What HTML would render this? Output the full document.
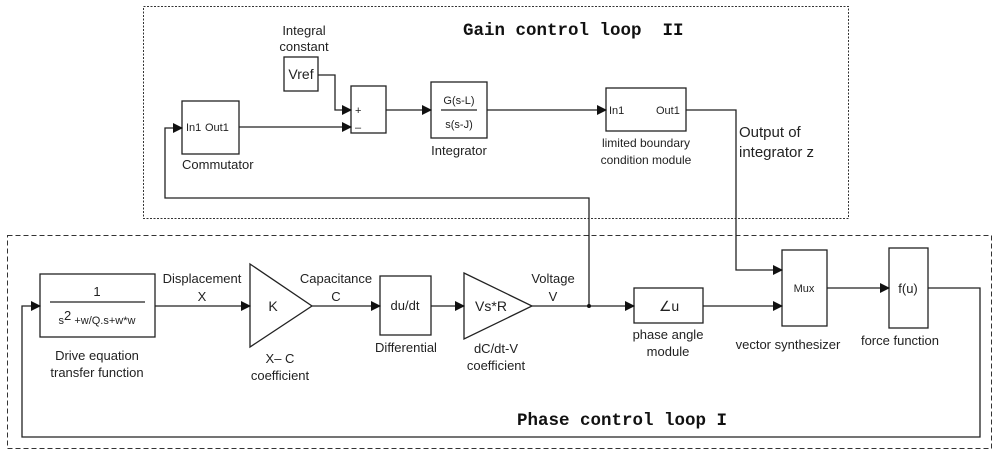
<!DOCTYPE html>
<html><head><meta charset="utf-8"><style>
html,body{margin:0;padding:0;background:#fff;}
svg{display:block;}
.t{font-family:"Liberation Sans",Arial,sans-serif;font-size:13px;fill:#222;}
.s{font-family:"Liberation Sans",Arial,sans-serif;font-size:11px;fill:#222;}
.m{font-family:"Liberation Mono",monospace;font-size:17.5px;font-weight:bold;fill:#111;}
</style></head><body>
<svg width="1000" height="455" viewBox="0 0 1000 455" xmlns="http://www.w3.org/2000/svg">
<defs><marker id="a" markerWidth="10" markerHeight="10" refX="9" refY="5" orient="auto" markerUnits="userSpaceOnUse"><path d="M0,0 L10,5 L0,10 Z" fill="#111"/></marker></defs>
<g fill="none" stroke="#333" stroke-width="1">
<rect x="143.5" y="6.5" width="705" height="212" stroke-dasharray="2,1.5"/>
<rect x="7.5" y="235.5" width="984" height="213" stroke-dasharray="5,3"/>
</g>
<g fill="none" stroke="#222" stroke-width="1.3">
<rect x="182" y="101" width="57" height="53"/>
<rect x="284" y="57" width="34" height="34"/>
<rect x="351" y="86" width="35" height="47"/>
<rect x="431" y="82" width="56" height="56"/>
<rect x="606" y="88" width="80" height="43"/>
<rect x="40" y="274" width="115" height="63"/>
<polygon points="250,264 312,306 250,347"/>
<rect x="380" y="276" width="51" height="59"/>
<polygon points="464,273 532,306 464,339"/>
<rect x="634" y="288" width="69" height="35"/>
<rect x="782" y="250" width="45" height="76"/>
<rect x="889" y="248" width="39" height="80"/>
<line x1="239" y1="127" x2="351" y2="127" marker-end="url(#a)"/>
<polyline points="318,75 335,75 335,110 351,110" marker-end="url(#a)"/>
<line x1="386" y1="110" x2="431" y2="110" marker-end="url(#a)"/>
<line x1="487" y1="110" x2="606" y2="110" marker-end="url(#a)"/>
<polyline points="686,110 736,110 736,270 782,270" marker-end="url(#a)"/>
<polyline points="589,306 589,198 165,198 165,128 182,128" marker-end="url(#a)"/>
<line x1="155" y1="306" x2="250" y2="306" marker-end="url(#a)"/>
<line x1="312" y1="306" x2="380" y2="306" marker-end="url(#a)"/>
<line x1="431" y1="306" x2="464" y2="306" marker-end="url(#a)"/>
<line x1="532" y1="306" x2="634" y2="306" marker-end="url(#a)"/>
<line x1="703" y1="306" x2="782" y2="306" marker-end="url(#a)"/>
<line x1="827" y1="288" x2="889" y2="288" marker-end="url(#a)"/>
<polyline points="928,288 980,288 980,437 22,437 22,306 40,306" marker-end="url(#a)"/>
<line x1="441" y1="110" x2="477" y2="110"/>
<line x1="50" y1="302" x2="145" y2="302"/>
</g>
<circle cx="589" cy="306" r="2" fill="#111"/>
<g class="t">
<text x="304" y="35" text-anchor="middle">Integral</text>
<text x="304" y="51" text-anchor="middle">constant</text>
<text x="301" y="79" text-anchor="middle" font-size="14">Vref</text>
<text x="186" y="131" class="s">In1</text><text x="205" y="131" class="s">Out1</text>
<text x="182" y="169">Commutator</text>
<text x="355" y="114" class="s">+</text><text x="355" y="131" class="s">–</text>
<text x="459" y="104" text-anchor="middle" class="s" font-size="12">G(s-L)</text>
<text x="459" y="128" text-anchor="middle" class="s" font-size="12">s(s-J)</text>
<text x="459" y="155" text-anchor="middle">Integrator</text>
<text x="609" y="114" class="s">In1</text><text x="656" y="114" class="s">Out1</text>
<text x="646" y="147" text-anchor="middle" font-size="12">limited boundary</text>
<text x="646" y="164" text-anchor="middle" font-size="12">condition module</text>
<text x="739" y="137" font-size="15">Output of</text>
<text x="739" y="157" font-size="15">integrator z</text>
<text x="97" y="296" text-anchor="middle">1</text>
<text x="97" y="324" text-anchor="middle" class="s" font-size="12">s<tspan font-size="13" dy="-4">2</tspan><tspan dy="4"> +w/Q.s+w*w</tspan></text>
<text x="97" y="360" text-anchor="middle">Drive equation</text>
<text x="97" y="377" text-anchor="middle">transfer function</text>
<text x="202" y="283" text-anchor="middle">Displacement</text>
<text x="202" y="301" text-anchor="middle">X</text>
<text x="273" y="311" text-anchor="middle" font-size="14">K</text>
<text x="280" y="363" text-anchor="middle">X– C</text>
<text x="280" y="380" text-anchor="middle">coefficient</text>
<text x="336" y="283" text-anchor="middle">Capacitance</text>
<text x="336" y="301" text-anchor="middle">C</text>
<text x="405" y="310" text-anchor="middle">du/dt</text>
<text x="406" y="352" text-anchor="middle">Differential</text>
<text x="491" y="311" text-anchor="middle" font-size="14">Vs*R</text>
<text x="496" y="353" text-anchor="middle">dC/dt-V</text>
<text x="496" y="370" text-anchor="middle">coefficient</text>
<text x="553" y="283" text-anchor="middle">Voltage</text>
<text x="553" y="301" text-anchor="middle">V</text>
<text x="669" y="311" text-anchor="middle" font-size="14">∠u</text>
<text x="668" y="339" text-anchor="middle">phase angle</text>
<text x="668" y="356" text-anchor="middle">module</text>
<text x="804" y="292" text-anchor="middle" class="s">Mux</text>
<text x="788" y="349" text-anchor="middle">vector synthesizer</text>
<text x="908" y="293" text-anchor="middle">f(u)</text>
<text x="900" y="345" text-anchor="middle">force function</text>
</g>
<text x="463" y="35" class="m" xml:space="preserve">Gain control loop  II</text>
<text x="517" y="425" class="m" xml:space="preserve">Phase control loop I</text>
</svg>
</body></html>
